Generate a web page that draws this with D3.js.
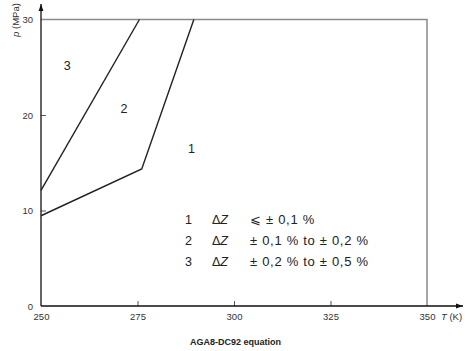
<!DOCTYPE html>
<html>
<head>
<meta charset="utf-8">
<script src="https://cdn.jsdelivr.net/npm/d3@7"></script>
<style>
  body { margin: 0; background: #fff; }
  svg { font-family: "Liberation Sans", Arial, sans-serif; }
</style>
</head>
<body>
<svg id="viz" width="465" height="351"></svg>
<script>
// Data

var xTicks = [250, 275, 300, 325, 350];
var yTicks = [0, 10, 20, 30];

// boundary between zone 3 and zone 2
var boundary32 = [[250, 12.1], [275.5, 30]];
// boundary between zone 2 and zone 1
var boundary21 = [[250, 9.45], [276.1, 14.35], [289.6, 30]];

// zone labels placed in the plot
var zoneLabels = [
  { name: "3", t: 256.8, p: 25.2 },
  { name: "2", t: 271.5, p: 20.7 },
  { name: "1", t: 289.0, p: 16.5 }
];

// legend rows
var legendRows = [
  { n: "1", txt: "\u2A7D \u00B1 0,1 %" },
  { n: "2", txt: "\u00B1 0,1 % to \u00B1 0,2 %" },
  { n: "3", txt: "\u00B1 0,2 % to \u00B1 0,5 %" }
];

var svg = d3.select("#viz");

var x = d3.scaleLinear().domain([250, 350]).range([41, 427]);
var y = d3.scaleLinear().domain([0, 30]).range([306, 19.5]);

// arrow marker for the axes
svg.append("defs").append("marker")
    .attr("id", "arrow")
    .attr("viewBox", "0 0 10 10")
    .attr("refX", 10).attr("refY", 5)
    .attr("markerWidth", 7).attr("markerHeight", 7)
    .attr("markerUnits", "userSpaceOnUse")
    .attr("orient", "auto")
  .append("path")
    .attr("d", "M0,1.5 L10,5 L0,8.5 Z")
    .attr("fill", "#111");

// gray frame: top and right
svg.append("path")
    .attr("d", "M" + x(250) + "," + y(30) + "H" + x(350) + "V" + y(0))
    .attr("fill", "none")
    .attr("stroke", "#8a8a8a")
    .attr("stroke-width", 1.5);

// axes with ticks pointing inside
var xAxis = svg.append("g")
    .attr("transform", "translate(0," + y(0) + ")")
    .call(d3.axisBottom(x).tickValues(xTicks).tickSize(-5).tickPadding(7));

var yAxis = svg.append("g")
    .attr("transform", "translate(" + x(250) + ",0)")
    .call(d3.axisLeft(y).tickValues(yTicks).tickSize(-5).tickPadding(8));

[xAxis, yAxis].forEach(function(a) {
  a.select(".domain").remove();
  a.selectAll(".tick line").attr("stroke", "#555");
  a.selectAll("text")
      .attr("font-family", "Liberation Sans, Arial, sans-serif")
      .attr("font-size", 9.5)
      .attr("fill", "#333");
});
xAxis.selectAll(".tick").filter(function(d) { return d == 250 || d == 350; })
    .select("line").remove();
yAxis.selectAll(".tick").filter(function(d) { return d == 0 || d == 30; })
    .select("line").remove();

svg.append("line")
    .attr("x1", x(250)).attr("y1", y(0))
    .attr("x2", 463).attr("y2", y(0))
    .attr("stroke", "#111").attr("stroke-width", 1.3)
    .attr("marker-end", "url(#arrow)");

svg.append("line")
    .attr("x1", x(250)).attr("y1", y(0))
    .attr("x2", x(250)).attr("y2", 4)
    .attr("stroke", "#111").attr("stroke-width", 1.3)
    .attr("marker-end", "url(#arrow)");

// axis titles
var tTitle = svg.append("text")
    .attr("x", 441).attr("y", 320)
    .attr("font-size", 9.5).attr("fill", "#333");
tTitle.append("tspan").attr("font-style", "italic").text("T");
tTitle.append("tspan").text(" (K)");

var pTitle = svg.append("text")
    .attr("transform", "translate(19,20) rotate(-90)")
    .attr("text-anchor", "middle")
    .attr("font-size", 9.5).attr("fill", "#333");
pTitle.append("tspan").attr("font-style", "italic").text("p");
pTitle.append("tspan").text(" (MPa)");

// boundary lines
var line = d3.line()
    .x(function(d) { return x(d[0]); })
    .y(function(d) { return y(d[1]); });

svg.selectAll(".boundary")
    .data([boundary32, boundary21])
    .enter().append("path")
    .attr("class", "boundary")
    .attr("d", line)
    .attr("fill", "none")
    .attr("stroke", "#222")
    .attr("stroke-width", 1.4);

// zone numbers
svg.selectAll(".zone")
    .data(zoneLabels)
    .enter().append("text")
    .attr("class", "zone")
    .attr("x", function(d) { return x(d.t); })
    .attr("y", function(d) { return y(d.p); })
    .attr("dy", "0.36em")
    .attr("text-anchor", "middle")
    .attr("font-size", 12.5)
    .attr("fill", "#222")
    .text(function(d) { return d.name; });

// legend
var leg = svg.selectAll(".leg")
    .data(legendRows)
    .enter().append("g")
    .attr("class", "leg")
    .attr("transform", function(d, i) { return "translate(0," + (223.5 + i * 21) + ")"; })
    .attr("font-size", 12.5)
    .attr("fill", "#222");

leg.append("text").attr("x", 185).text(function(d) { return d.n; });
var dz = leg.append("text").attr("x", 212);
dz.append("tspan").text("\u0394");
dz.append("tspan").attr("font-style", "italic").text("Z");
leg.append("text").attr("x", 250)
    .attr("font-size", 13)
    .attr("letter-spacing", 0.7)
    .text(function(d) { return d.txt; });

// caption
svg.append("text")
    .attr("x", 190).attr("y", 345)
    .attr("font-size", 9)
    .attr("font-weight", "bold")
    .attr("fill", "#222")
    .text("AGA8-DC92 equation");
</script>
</body>
</html>
